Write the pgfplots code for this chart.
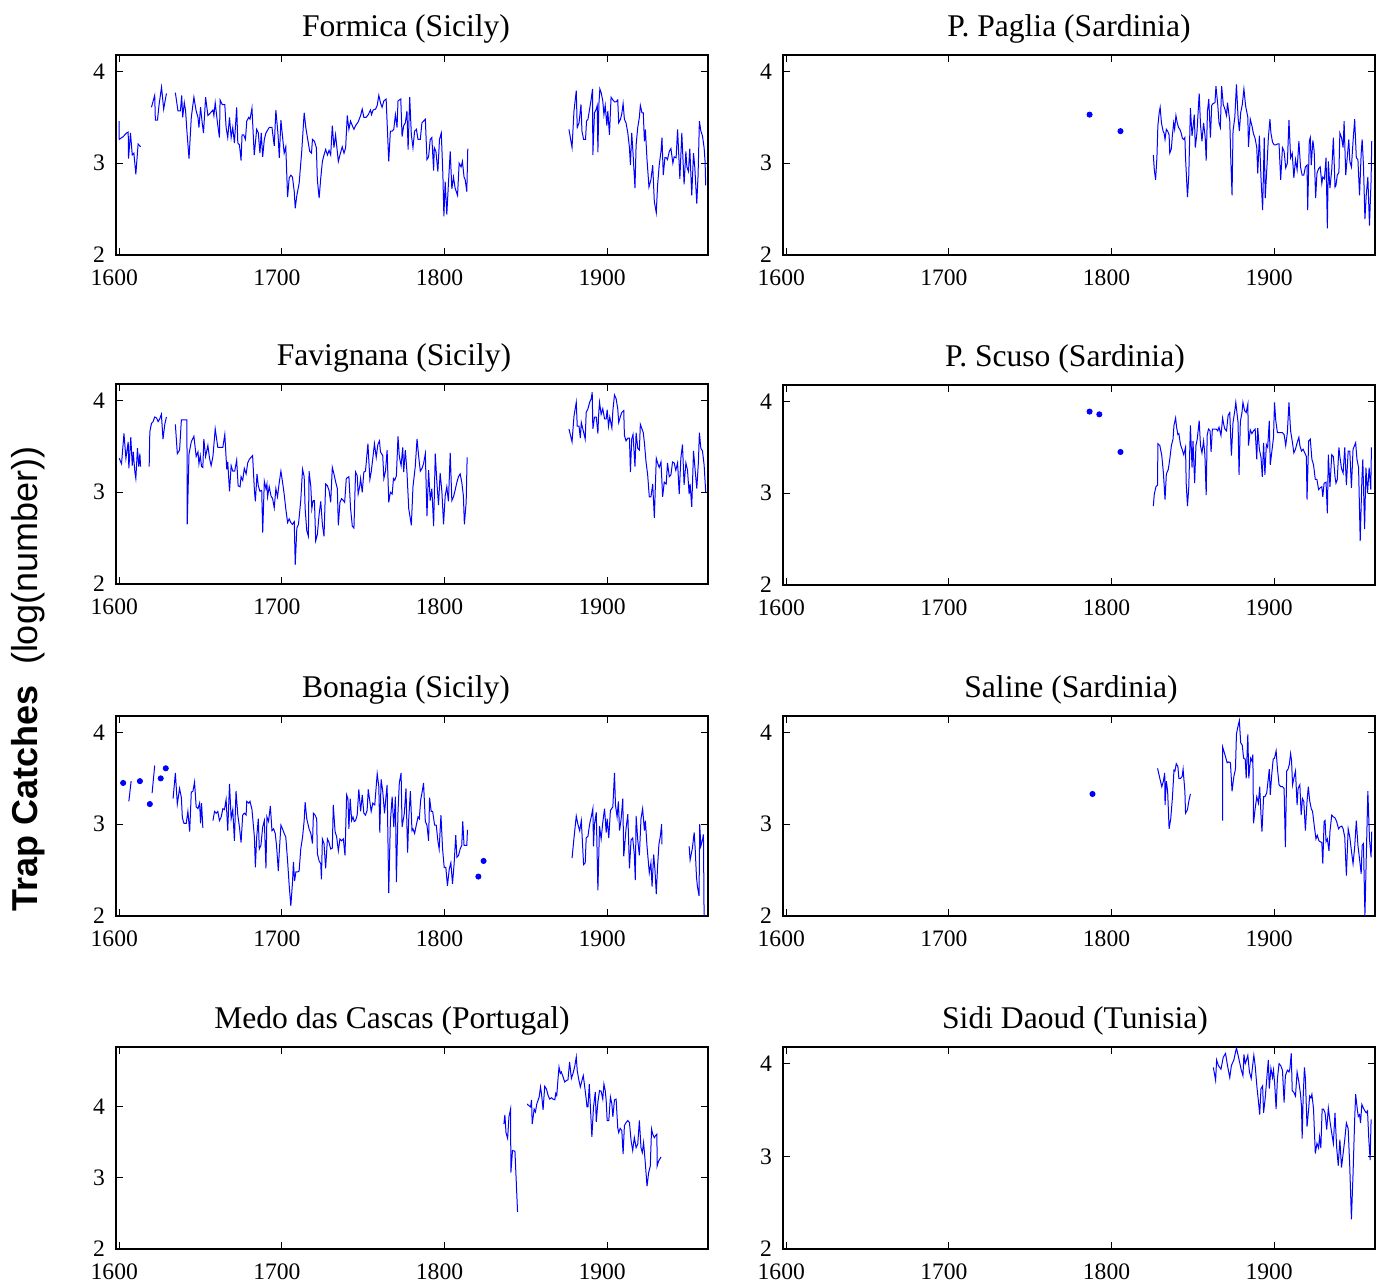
\documentclass[border=0pt]{standalone}
\usepackage{fontspec}
\setmainfont{Liberation Serif}
\newfontfamily\labfont{Liberation Sans}
\usepackage{pgfplots}
\pgfplotsset{compat=1.18}
\pgfplotsset{
 panel/.style={scale only axis, width=296pt, height=100pt, anchor=north west,
  xmin=1598, xmax=1962, ymin=2, ymax=4.18,
  xtick={1600,1700,1800,1900}, ytick={2,3,4},
  tick align=inside, major tick length=3.5pt,
  tick style={black, line width=0.5pt},
  axis line style={black, line width=0.9pt},
  ticklabel style={font=\fontsize{11.8}{13}\selectfont},
  x tick label style={yshift=-4pt, xshift=-2.5pt},
  y tick label style={xshift=-2pt},
  title style={font=\fontsize{15.8}{18}\selectfont, yshift=-3.5pt},
  /pgf/number format/1000 sep={},
  /pgf/number format/assume math mode=true},
 ser/.style={color=blue, line width=0.5pt, mark=none},
 dot/.style={color=blue, only marks, mark=*, mark size=1.3pt, mark options={fill=blue, draw=blue}},
}
\begin{document}
\begin{tikzpicture}
\useasboundingbox (0,0) rectangle (694pt,-644pt);
\node[rotate=90] at (14pt,-339.5pt) {\labfont\fontsize{18}{20}\selectfont\textbf{Trap Catches}\hspace{10pt}(log(number))};

% ---------------- Formica
\begin{axis}[panel, at={(58pt,-27.5pt)}, title={Formica (Sicily)}, title style={xshift=-3pt}]
\addplot[ser] coordinates {(1599.9,3.46)(1600,3.26)(1602.4,3.29)(1604.5,3.33)(1605.5,3.34)(1605.7,3.05)(1606.9,3.33)(1608,3.09)(1609,3.11)(1610.2,2.88)(1611.6,3.21)(1613.1,3.18)};
\addplot[ser] coordinates {(1619.8,3.61)(1621.8,3.74)(1622.2,3.47)(1623.5,3.47)(1624.5,3.64)(1626,3.83)(1627.3,3.59)(1629,3.76)};
\addplot[ser] coordinates {(1634.5,3.77)(1636.1,3.57)(1637.6,3.57)(1638.4,3.74)(1639,3.50)(1640,3.66)(1640.8,3.57)(1641.6,3.35)(1642.9,3.05)(1644.3,3.50)(1645.9,3.72)(1647.3,3.57)(1648.4,3.50)(1649,3.39)(1650,3.61)(1651,3.44)(1651.8,3.33)(1653.1,3.72)(1654.5,3.52)(1656.1,3.55)(1657.6,3.58)(1658.2,3.52)(1659,3.66)(1660.4,3.44)(1661.6,3.28)(1662,3.69)(1663.3,3.64)(1664.9,3.64)(1665.7,3.39)(1666.7,3.28)(1667.8,3.50)(1668.8,3.28)(1669.8,3.39)(1670.8,3.22)(1672.2,3.61)(1672.9,3.22)(1673.9,3.20)(1674.9,3.03)(1675.5,3.31)(1676.5,3.31)(1677.6,3.26)(1678.4,3.46)(1679.6,3.50)(1680.4,3.48)(1681.6,3.60)(1683,3.09)(1684.5,3.37)(1685.5,3.33)(1686.5,3.11)(1687.3,3.33)(1688.2,3.07)(1689.2,3.26)(1690.2,3.33)(1691.2,3.36)(1692.2,3.39)(1693.9,3.39)(1695.3,3.19)(1696.3,3.58)(1697.6,3.32)(1698.4,3.06)(1699.4,3.47)(1700.4,3.29)(1701.4,3.11)(1702.4,3.18)(1703.5,2.63)(1704.5,2.84)(1705.5,2.87)(1706.5,2.85)(1707.6,2.69)(1708.2,2.51)(1709.2,2.65)(1710.6,2.78)(1712.2,3.13)(1713.7,3.55)(1714.7,3.39)(1715.7,3.28)(1717.1,3.13)(1718.2,3.11)(1718.8,3.26)(1720,3.24)(1721.2,3.17)(1721.8,2.82)(1722.9,2.62)(1723.9,2.84)(1724.9,3.02)(1725.9,3.09)(1726.9,3.15)(1728,3.09)(1729,3.14)(1730,3.09)(1731,3.41)(1732,3.17)(1733,3.31)(1734.7,3.02)(1735.7,3.09)(1737.1,3.18)(1738.2,3.11)(1739.2,3.17)(1740.2,3.52)(1741.2,3.37)(1742.2,3.46)(1743.3,3.41)(1744.3,3.37)(1745.3,3.41)(1746.9,3.45)(1748.4,3.52)(1749.4,3.59)(1750.4,3.50)(1751.8,3.50)(1753.1,3.53)(1754.5,3.58)(1755.1,3.53)(1756.1,3.58)(1757.6,3.59)(1758.6,3.63)(1759.6,3.74)(1760.6,3.66)(1761.6,3.61)(1762.7,3.68)(1764.1,3.70)(1765.7,3.02)(1766.7,3.35)(1767.8,3.35)(1768.8,3.37)(1769.8,3.53)(1770.8,3.39)(1771.4,3.68)(1773.1,3.70)(1773.9,3.29)(1774.9,3.41)(1775.9,3.44)(1776.9,3.57)(1777.6,3.15)(1778.6,3.72)(1779.6,3.31)(1780.6,3.17)(1781.6,3.35)(1782.7,3.37)(1783.7,3.26)(1785.1,3.26)(1786.1,3.44)(1787.1,3.46)(1788.2,3.48)(1789.2,3.04)(1790.2,3.07)(1791.2,3.26)(1792.2,3.28)(1793.3,2.92)(1793.7,3.17)(1794.7,3.13)(1795.9,2.91)(1796.9,3.26)(1798,3.33)(1799,2.87)(1799.6,2.42)(1800.4,2.80)(1801.4,2.44)(1802.4,2.78)(1803.5,3.13)(1804.5,2.72)(1805.5,2.85)(1806.5,2.73)(1808,2.65)(1809,3.00)(1810.2,2.96)(1811,3.02)(1812,2.85)(1812.7,2.82)(1813.7,2.69)(1814.3,3.16)};
\addplot[ser] coordinates {(1876.5,3.37)(1878.4,3.17)(1879.6,3.57)(1881,3.79)(1881.6,3.39)(1882.7,3.44)(1883.9,3.64)(1884.5,3.35)(1885.5,3.26)(1886.7,3.26)(1887.3,3.46)(1888.2,3.48)(1889.2,3.59)(1890.2,3.70)(1891,3.81)(1891.2,3.09)(1892.2,3.55)(1893.3,3.59)(1893.9,3.63)(1894.3,3.12)(1894.9,3.64)(1895.5,3.81)(1896.3,3.77)(1897.3,3.68)(1898,3.53)(1898.8,3.63)(1899.8,3.41)(1900.4,3.57)(1901.4,3.31)(1902.4,3.72)(1903.5,3.69)(1904.5,3.67)(1905.5,3.67)(1906.5,3.69)(1907.1,3.44)(1908.2,3.48)(1909,3.54)(1909.8,3.65)(1910.6,3.48)(1911.6,3.44)(1912.7,3.33)(1913.7,3.17)(1914.3,2.98)(1915.1,3.33)(1915.9,3.11)(1917.1,2.73)(1917.8,3.20)(1918.8,3.39)(1919.8,3.50)(1920.4,3.63)(1921.4,3.55)(1922.2,3.55)(1922.9,3.24)(1923.5,3.37)(1924.5,3.04)(1925.7,2.74)(1926.9,2.82)(1928,2.98)(1929,2.58)(1930.2,2.46)(1931,2.76)(1932,2.98)(1933.1,3.13)(1933.7,3.28)(1934.5,2.87)(1935.5,3.06)(1936.3,3.06)(1937.1,3.04)(1938.2,3.13)(1939.2,3.16)(1940.4,3.00)(1941.2,3.07)(1942.4,3.06)(1943.3,3.37)(1944.7,2.83)(1945.9,3.33)(1947.3,2.77)(1948.4,3.13)(1949,2.96)(1950,2.91)(1950.8,3.16)(1951.4,2.91)(1952,2.65)(1953.1,3.11)(1953.9,2.95)(1955.1,2.56)(1955.9,2.87)(1956.7,3.46)(1957.6,3.35)(1958.6,3.30)(1959.6,3.17)(1960.2,3.02)(1960.6,2.76)};
\end{axis}

% ---------------- P. Paglia
\begin{axis}[panel, at={(391.5pt,-27.5pt)}, title={P. Paglia (Sardinia)}, title style={xshift=-5pt}]
\addplot[dot] coordinates {(1786.5,3.53)(1805.5,3.35)};
\addplot[ser] coordinates {(1825.7,3.09)(1826.3,2.93)(1827.1,2.82)(1827.9,3.06)(1828.5,3.41)(1829.3,3.55)(1829.9,3.61)(1830.7,3.44)(1831.7,3.35)(1832.3,3.33)(1832.9,3.26)(1833.7,3.37)(1834.5,3.35)(1835.4,3.31)(1835.8,3.11)(1836.8,3.16)(1837.4,3.30)(1838.2,3.44)(1838.8,3.37)(1839.6,3.52)(1840.4,3.44)(1841.2,3.39)(1842,3.37)(1842.8,3.33)(1843.6,3.27)(1844.4,3.26)(1845.1,3.28)(1845.5,3.06)(1846.7,2.63)(1847.5,2.87)(1848.5,3.60)(1849.5,3.30)(1850.1,3.39)(1850.9,3.53)(1851.5,3.17)(1852.5,3.33)(1853.9,3.76)(1854.7,3.42)(1855.6,3.24)(1856.6,3.44)(1857.6,3.28)(1858.2,3.03)(1859,3.57)(1859.8,3.70)(1860.8,3.28)(1861.6,3.63)(1862.4,3.65)(1863.6,3.66)(1864.2,3.84)(1865.3,3.64)(1866.1,3.44)(1866.9,3.39)(1867.7,3.84)(1868.7,3.64)(1869.7,3.59)(1870.7,3.52)(1871.3,3.66)(1872.7,3.46)(1873.3,3.06)(1874.1,2.65)(1874.7,3.35)(1875.8,3.50)(1876.8,3.86)(1877.8,3.50)(1878.6,3.35)(1879.4,3.55)(1880.4,3.64)(1881.4,3.81)(1882.4,3.63)(1883.8,3.50)(1884.2,3.18)(1885.3,3.48)(1886.3,3.41)(1887.3,3.32)(1888.3,3.27)(1889.3,3.17)(1889.9,2.89)(1890.9,3.30)(1891.9,2.84)(1892.9,2.49)(1893.9,3.28)(1894.5,2.62)(1895.6,2.98)(1896.4,3.27)(1897.4,3.48)(1898,3.33)(1899,3.23)(1900,3.20)(1901,3.20)(1902,3.21)(1903,3.21)(1904,2.82)(1905.1,3.17)(1906.1,3.13)(1907.1,2.95)(1908.1,3.00)(1909.1,3.47)(1910.1,3.06)(1911.1,3.11)(1912.1,2.84)(1913.1,3.04)(1914.1,2.93)(1915.2,3.24)(1916.2,2.96)(1917.2,2.87)(1918.2,2.87)(1919.2,2.96)(1920.2,2.98)(1920.6,2.49)(1921.6,3.24)(1922.2,3.28)(1922.8,2.98)(1923.8,3.25)(1924.6,3.13)(1925.5,2.62)(1926.3,2.89)(1927.3,2.94)(1928.3,2.96)(1929.3,2.78)(1929.9,2.85)(1930.9,2.83)(1931.9,3.06)(1932.7,2.29)(1933.3,3.02)(1934.3,2.73)(1935.4,2.93)(1936.4,3.28)(1937.4,2.74)(1938,2.76)(1938.8,2.87)(1939.8,2.90)(1940.4,3.33)(1941.4,3.28)(1942.4,3.17)(1943,3.46)(1944,2.87)(1944.8,3.04)(1945.9,3.26)(1946.5,3.02)(1947.5,2.96)(1948.5,3.24)(1949.5,3.48)(1950.5,3.06)(1951.5,3.04)(1952.5,2.65)(1953.5,3.11)(1954.1,3.26)(1954.9,2.98)(1955.8,2.39)(1956.6,2.65)(1957.6,2.85)(1958.6,2.32)(1959.6,2.82)(1960,3.24)};
\end{axis}

% ---------------- Favignana
\begin{axis}[panel, at={(58pt,-192pt)}, title={Favignana (Sicily)}, title style={xshift=-9pt}]
\addplot[ser] coordinates {(1600,3.37)(1601.4,3.31)(1602.9,3.64)(1604.1,3.37)(1605.5,3.55)(1605.9,3.26)(1607.1,3.60)(1608,3.29)(1608.6,3.44)(1609.6,3.22)(1610.2,3.15)(1611.2,3.48)(1612,3.28)(1612.7,3.42)(1613.1,3.28)};
\addplot[ser] coordinates {(1618.4,3.28)(1618.8,3.66)(1619.8,3.75)(1620.8,3.77)(1621.8,3.82)(1622.9,3.81)(1623.9,3.77)(1624.9,3.80)(1625.9,3.85)(1626.9,3.58)(1628,3.74)(1629,3.82)};
\addplot[ser] coordinates {(1634.5,3.74)(1635.7,3.42)(1637.1,3.46)(1638.2,3.79)(1640.2,3.79)(1641.6,3.79)(1641.8,2.65)(1642.9,3.42)(1644.3,3.55)(1645.9,3.61)(1647.3,3.39)(1648.4,3.44)(1649,3.31)(1649.8,3.40)(1650.6,3.28)(1651.4,3.27)(1652,3.58)(1653.1,3.39)(1654.5,3.51)(1655.5,3.37)(1656.5,3.29)(1657.6,3.39)(1659,3.69)(1660.6,3.49)(1662,3.49)(1663.7,3.49)(1664.9,3.63)(1666.1,3.25)(1666.7,3.33)(1667.8,3.01)(1668.8,3.29)(1669.8,3.23)(1671,3.23)(1672.2,3.35)(1673.1,3.07)(1674.3,3.06)(1674.9,3.17)(1675.9,3.13)(1676.9,3.26)(1678,3.20)(1679,3.32)(1680,3.36)(1682,3.40)(1683.1,3.02)(1683.7,2.90)(1684.7,3.20)(1685.5,3.07)(1686.5,3.01)(1687.6,3.02)(1688.2,2.56)(1689.2,3.12)(1690.2,3.04)(1690.8,3.09)(1691.2,2.95)(1692.2,3.06)(1693.3,2.96)(1694.3,2.93)(1695.3,2.83)(1696.3,3.04)(1697.3,2.95)(1698.4,3.11)(1699.4,3.23)(1700.4,3.11)(1701.4,2.98)(1702.4,2.82)(1703.5,2.67)(1704.5,2.71)(1705.5,2.67)(1706.5,2.65)(1707.6,2.68)(1708.2,2.21)(1709.2,2.61)(1710.2,2.65)(1711.6,2.91)(1712.7,3.25)(1713.7,3.17)(1714.3,2.82)(1715.3,2.58)(1716.3,2.52)(1716.7,3.23)(1717.8,3.06)(1718.4,2.82)(1719.2,2.91)(1720,2.91)(1720.8,2.47)(1721.8,2.54)(1722.9,2.76)(1723.9,2.90)(1724.9,2.65)(1725.9,2.52)(1726.9,3.09)(1728,3.07)(1729,3.02)(1730,2.89)(1731,3.27)(1732,3.20)(1733.1,3.11)(1734.1,3.04)(1734.7,2.64)(1735.7,2.89)(1736.7,2.93)(1737.8,2.91)(1738.6,2.89)(1739.6,3.15)(1741.2,3.17)(1742.2,2.83)(1743.3,2.63)(1744.3,2.61)(1745.3,3.22)(1746.3,3.18)(1746.9,2.98)(1747.8,3.06)(1748.4,3.15)(1749.4,3.00)(1750.4,3.22)(1751.4,3.23)(1752.9,3.53)(1753.5,3.33)(1754.1,3.14)(1754.9,3.22)(1756.1,3.40)(1756.9,3.53)(1758,3.38)(1759,3.52)(1760,3.56)(1760.6,3.44)(1762,3.40)(1762.7,3.15)(1763.7,3.23)(1764.7,3.46)(1765.7,2.89)(1766.7,3.00)(1767.8,2.98)(1768.6,3.15)(1769.4,3.13)(1770.4,3.18)(1771.4,3.61)(1772.2,3.39)(1773.3,3.29)(1774.3,3.49)(1774.9,3.22)(1775.9,3.46)(1776.9,3.22)(1778,2.82)(1779.6,2.64)(1780.6,3.06)(1782,3.28)(1783.1,3.58)(1784.1,3.39)(1785.1,3.23)(1786.1,3.26)(1787.1,3.31)(1788.2,3.42)(1789.2,2.74)(1790.2,3.24)(1791.2,2.91)(1792.2,3.04)(1793.3,2.63)(1794.3,3.42)(1795.3,3.11)(1796.3,2.86)(1797.3,3.21)(1798.4,3.00)(1799.4,2.65)(1800.4,2.96)(1801.4,3.06)(1802.4,2.90)(1803.5,3.43)(1804.5,2.91)(1805.5,2.95)(1806.5,3.02)(1807.6,3.11)(1808.6,3.17)(1809.6,3.20)(1810.6,3.11)(1811.6,2.96)(1812.2,2.65)(1813.3,2.89)(1813.9,3.38)};
\addplot[ser] coordinates {(1876.5,3.69)(1878.4,3.55)(1879.6,3.83)(1881,3.98)(1881.6,3.72)(1882.7,3.72)(1883.5,3.59)(1884.1,3.76)(1885.3,3.67)(1886.5,3.58)(1887.1,3.87)(1888.2,3.91)(1889.2,3.98)(1890.2,4.02)(1890.8,4.09)(1891.2,3.69)(1892.2,3.82)(1893.3,3.82)(1894.3,3.64)(1894.7,3.83)(1895.3,3.98)(1896.3,3.85)(1897.3,3.91)(1898.4,3.80)(1899.4,3.80)(1900,3.90)(1900.8,3.72)(1901.6,3.82)(1902.9,3.70)(1903.5,3.89)(1904.5,4.06)(1905.5,4.02)(1906.5,3.91)(1907.1,3.76)(1908.2,3.83)(1909,3.87)(1910.2,3.89)(1910.6,3.62)(1911.6,3.56)(1912.7,3.59)(1913.7,3.59)(1914.3,3.22)(1915.1,3.58)(1915.9,3.63)(1917.1,3.28)(1917.8,3.65)(1918.8,3.48)(1919.8,3.46)(1920.4,3.74)(1921.4,3.69)(1922.2,3.65)(1922.9,3.54)(1923.9,3.33)(1924.9,3.19)(1925.9,2.95)(1926.9,2.95)(1928,3.09)(1929,2.72)(1930.2,3.37)(1931,3.32)(1932,3.27)(1933.1,3.33)(1934.1,2.95)(1935.1,3.11)(1936.3,3.09)(1937.1,3.32)(1938.2,3.17)(1939.2,3.19)(1940.2,3.33)(1941.2,3.32)(1942.2,3.24)(1943.3,3.32)(1944.3,2.98)(1945.3,3.37)(1946.3,3.52)(1947.3,3.08)(1948.4,3.32)(1949.4,3.24)(1950.4,2.98)(1951,3.09)(1952,2.84)(1953.1,3.45)(1954.1,3.24)(1955.1,3.04)(1956.1,3.33)(1956.7,3.65)(1957.6,3.48)(1958.6,3.45)(1959.6,3.30)(1960.6,3.00)};
\end{axis}

% ---------------- P. Scuso
\begin{axis}[panel, at={(391.5pt,-192.5pt)}, title={P. Scuso (Sardinia)}, title style={xshift=-7pt}]
\addplot[dot] coordinates {(1786.5,3.89)(1792.5,3.86)(1805.5,3.45)};
\addplot[ser] coordinates {(1825.7,2.86)(1826.3,2.99)(1827.3,3.07)(1828.3,3.09)(1828.5,3.54)(1829.7,3.52)(1830.9,3.41)(1831.9,3.22)(1832.9,2.93)(1833.7,3.21)(1834.9,3.26)(1835.8,3.37)(1836.8,3.52)(1837.8,3.59)(1838.4,3.74)(1839.4,3.82)(1840,3.72)(1840.8,3.64)(1841.4,3.65)(1842.4,3.53)(1843.4,3.48)(1844.4,3.42)(1845.5,3.50)(1845.9,3.11)(1846.7,2.86)(1847.5,3.07)(1848.5,3.74)(1849.5,3.28)(1850.1,3.57)(1851.1,3.11)(1851.9,3.52)(1852.7,3.59)(1853.9,3.79)(1854.7,3.52)(1855.6,3.44)(1856.6,3.57)(1857.4,3.42)(1858.2,2.98)(1858.8,3.63)(1859.6,3.70)(1860.6,3.68)(1861.2,3.45)(1862,3.70)(1863.2,3.70)(1864.4,3.70)(1865.3,3.68)(1866.1,3.72)(1867.3,3.63)(1868.3,3.82)(1869.1,3.74)(1869.7,3.70)(1870.7,3.68)(1871.7,3.85)(1872.7,3.88)(1873.7,3.41)(1874.7,3.77)(1875.8,3.90)(1876.4,3.99)(1877.8,3.77)(1878.4,3.20)(1879.2,3.78)(1880.2,3.88)(1880.8,3.99)(1881.8,3.90)(1882.8,3.88)(1883.8,3.97)(1884.2,3.52)(1885.3,3.69)(1886.3,3.65)(1887.3,3.68)(1888.3,3.70)(1889.3,3.37)(1889.9,3.71)(1890.9,3.48)(1891.9,3.39)(1892.7,3.18)(1893.5,3.55)(1894.3,3.20)(1895.2,3.53)(1896,3.50)(1897,3.79)(1897.6,3.31)(1898.6,3.46)(1899.6,3.61)(1900.2,3.99)(1901,3.79)(1902,3.66)(1903,3.66)(1904,3.66)(1905.1,3.66)(1906.1,3.64)(1907.1,3.52)(1908.1,3.66)(1909.1,3.99)(1910.1,3.68)(1911.1,3.57)(1912.1,3.44)(1913.1,3.48)(1914.1,3.55)(1915.2,3.61)(1915.8,3.52)(1916.8,3.46)(1917.8,3.48)(1918.8,3.44)(1919.8,3.40)(1920.2,2.93)(1921.2,3.57)(1922.2,3.59)(1923.2,3.37)(1924.2,3.31)(1925.3,3.15)(1926.3,3.15)(1927.3,3.04)(1928.3,3.06)(1929.3,3.07)(1929.9,2.96)(1930.7,3.11)(1931.9,3.12)(1932.7,2.78)(1933.3,3.42)(1934.3,3.07)(1935.4,3.42)(1936.4,3.40)(1937.4,3.18)(1938,3.11)(1938.8,3.15)(1939.8,3.50)(1940.4,3.40)(1941.4,3.27)(1942.4,3.22)(1943.4,3.50)(1944.4,3.09)(1945.5,3.46)(1946.5,3.46)(1947.5,3.06)(1948.5,3.48)(1950.1,3.55)(1950.9,3.37)(1951.9,3.28)(1952.9,2.48)(1953.9,3.13)(1954.5,3.37)(1955.6,2.61)(1956.4,3.28)(1957.4,3.00)(1958.4,3.28)(1959.4,3.04)(1959.8,3.50)};
\end{axis}

% ---------------- Bonagia
\begin{axis}[panel, at={(58pt,-358pt)}, title={Bonagia (Sicily)}, title style={xshift=-3pt}]
\addplot[dot] coordinates {(1602.4,3.45)(1612.7,3.47)(1618.8,3.22)(1625.5,3.50)(1628.6,3.61)(1820.8,2.43)(1824,2.60)};
\addplot[ser] coordinates {(1605.9,3.25)(1607.3,3.47)};
\addplot[ser] coordinates {(1620.2,3.34)(1621.8,3.64)};
\addplot[ser] coordinates {(1633.1,3.28)(1634.5,3.56)(1635.7,3.22)(1637.1,3.39)(1638.2,3.29)(1638.8,3.07)(1639.8,3.01)(1641.2,3.01)(1642.2,3.14)(1643.3,2.92)(1644.3,3.35)(1645.3,3.36)(1646.3,3.46)(1647.3,3.19)(1648.4,3.17)(1649.4,3.23)(1650,3.01)(1650.6,3.23)(1651.4,2.96)};
\addplot[ser] coordinates {(1657.6,3.04)(1658.6,3.14)(1659.6,3.12)(1660.6,3.14)(1661.6,3.04)(1662.7,3.08)(1663.7,3.17)(1664.7,3.16)(1665.7,3.27)(1666.7,2.93)(1667.8,3.44)(1668.8,3.06)(1669.8,3.16)(1670.8,2.82)(1671.8,3.36)(1672.9,3.10)(1673.9,2.97)(1674.9,2.80)(1675.9,3.10)(1676.9,3.12)(1678,3.10)(1678.4,3.25)(1679.6,3.23)(1680.4,3.25)(1681.6,3.16)(1683.1,2.86)(1683.7,2.53)(1684.5,2.86)(1685.5,3.06)(1686.1,2.73)(1687.1,2.77)(1688.2,2.97)(1689.2,3.04)(1690.2,2.52)(1690.8,3.08)(1691.8,3.03)(1692.9,3.20)(1693.9,2.93)(1694.9,2.95)(1695.9,2.90)(1696.7,2.77)(1697.8,2.49)(1698.4,2.70)(1699.4,2.99)(1700.4,2.95)(1701.4,2.90)(1702.4,2.86)(1703.5,2.60)(1704.5,2.33)(1705.5,2.11)(1706.5,2.36)(1707.1,2.59)(1707.8,2.38)(1708.6,2.48)(1709.6,2.48)(1710.6,2.49)(1711.6,2.73)(1712.7,2.86)(1713.7,3.04)(1714.3,3.24)(1715.3,3.06)(1716.7,2.95)(1717.8,2.90)(1718.8,2.79)(1719.4,3.12)(1720.4,3.10)(1721.4,3.06)(1721.8,2.68)(1722.9,2.60)(1723.9,2.57)(1724.3,2.40)(1724.9,2.84)(1725.9,2.79)(1726.9,2.52)(1728,2.84)(1729,2.80)(1730,2.73)(1731,2.74)(1731.6,3.21)(1732.7,2.92)(1733.7,2.86)(1734.7,2.71)(1735.7,2.84)(1736.7,2.82)(1737.8,2.84)(1738.8,2.66)(1739.8,3.32)(1740.6,3.28)(1741.2,2.95)(1742,3.28)(1742.9,3.04)(1743.7,3.08)(1744.5,3.03)(1745.3,3.04)(1746.3,3.10)(1747.3,3.38)(1748.4,3.14)(1749.4,3.32)(1750.4,3.12)(1751.4,3.10)(1752.4,3.15)(1753.1,3.38)(1753.9,3.27)(1754.9,3.14)(1755.9,3.23)(1757.1,3.21)(1758.6,3.55)(1759.6,3.41)(1760.2,2.91)(1761,3.49)(1762,3.36)(1763.1,3.12)(1764.1,3.32)(1764.7,3.43)(1765.7,2.25)(1766.7,3.03)(1767.8,3.30)(1768.8,2.97)(1769.8,3.30)(1770.4,2.37)(1771.4,3.14)(1772.2,3.45)(1773.3,3.56)(1773.9,2.97)(1775.3,3.12)(1776.3,3.39)(1777.3,2.69)(1778,3.06)(1779,3.36)(1780,2.93)(1780.6,2.95)(1781.6,2.90)(1782.4,2.97)(1783.7,3.08)(1784.5,3.06)(1785.3,3.26)(1786.5,3.38)(1787.1,3.45)(1788.2,3.03)(1789.2,2.99)(1790.2,2.82)(1790.8,3.29)(1791.8,3.14)(1792.7,3.14)(1793.9,2.99)(1794.9,2.99)(1795.9,2.82)(1796.7,2.73)(1797.8,3.10)(1798.8,2.73)(1799.8,2.53)(1800.8,2.53)(1801.8,2.33)(1802.9,2.51)(1803.9,2.58)(1804.9,2.35)(1805.9,2.57)(1806.9,2.88)(1807.6,2.64)(1808.6,2.66)(1809.6,2.73)(1810.6,2.77)(1811.2,3.03)(1812,2.77)(1813.1,2.77)(1813.7,2.77)(1814.1,2.94)};
\addplot[ser] coordinates {(1878.4,2.63)(1879.6,2.85)(1881,3.09)(1882,3.00)(1883.1,2.93)(1884.1,3.04)(1885.5,2.56)(1886.5,2.58)(1887.1,2.85)(1888.2,2.87)(1889.2,3.00)(1890.2,3.08)(1891.2,3.17)(1891.6,2.76)(1892.2,3.00)(1893.3,3.13)(1894.3,2.28)(1895.3,2.98)(1896.3,2.84)(1897.3,3.02)(1898.4,3.17)(1899.4,2.91)(1900,3.06)(1901,2.85)(1902,3.15)(1903.5,3.19)(1904.5,3.56)(1905.1,3.21)(1906.1,3.08)(1906.9,3.25)(1907.6,2.93)(1908.6,3.06)(1909.6,3.28)(1910.2,2.65)(1911,2.82)(1911.6,2.95)(1912.7,3.11)(1913.7,2.52)(1914.7,2.83)(1915.7,2.85)(1916.7,2.67)(1917.3,2.39)(1917.8,3.09)(1918.8,2.83)(1919.8,2.66)(1920.8,3.06)(1921.8,3.17)(1922.9,2.93)(1923.5,3.04)(1924.5,2.76)(1925.9,2.47)(1926.9,2.58)(1927.6,2.32)(1928.6,2.67)(1929.4,2.50)(1930.2,2.24)(1931,2.54)(1931.8,2.78)(1932.7,2.87)(1933.5,3.00)(1933.7,2.78)};
\addplot[ser] coordinates {(1950.4,2.76)(1951,2.61)(1952.4,2.74)(1953.5,2.91)(1954.1,2.74)(1954.9,2.43)(1955.5,2.32)(1956.5,2.22)(1956.9,3.00)(1957.6,2.76)(1958.6,2.83)(1959.2,2.89)(1959.6,1.98)};
\end{axis}

% ---------------- Saline
\begin{axis}[panel, at={(391.5pt,-358pt)}, title={Saline (Sardinia)}, title style={xshift=-4pt}]
\addplot[dot] coordinates {(1788.3,3.33)};
\addplot[ser] coordinates {(1828.3,3.61)(1829.7,3.50)(1830.9,3.41)(1831.9,3.47)(1832.7,3.56)(1832.9,3.21)(1833.7,3.47)(1834.5,3.36)(1835.4,2.95)(1836.4,3.06)(1837.4,3.28)(1838.4,3.59)(1839,3.58)(1839.8,3.66)(1840.8,3.63)(1841.4,3.50)(1842.4,3.50)(1843.4,3.52)(1844,3.60)(1845.1,3.36)(1845.5,3.12)(1846.7,3.16)(1847.5,3.25)(1848.5,3.33)};
\addplot[ser] coordinates {(1868.3,3.04)(1868.35,3.84)(1869.7,3.76)(1871.1,3.67)(1872.1,3.68)(1873.1,3.67)(1874.1,3.36)(1875.2,3.52)(1876.2,3.60)(1876.8,3.98)(1877.4,4.04)(1878.6,4.13)(1879.4,3.89)(1880.4,3.86)(1881.2,3.72)(1882.2,3.71)(1882.8,3.50)(1883.8,3.98)(1884.4,3.50)(1885.5,3.72)(1886.3,3.69)(1886.9,3.76)(1887.3,3.01)(1888.3,3.17)(1889.3,3.30)(1890.3,3.23)(1891.1,3.41)(1891.9,3.10)(1892.5,2.92)(1893.5,3.30)(1894.3,3.30)(1895.4,3.34)(1896.4,3.50)(1897,3.60)(1897.6,3.32)(1898.4,3.52)(1899.4,3.71)(1900.2,3.72)(1901.2,3.80)(1902,3.61)(1903,3.43)(1904,3.41)(1905.1,3.41)(1906.1,3.39)(1906.9,2.75)(1907.7,3.58)(1908.5,3.60)(1909.3,3.65)(1910.1,3.77)(1910.7,3.69)(1911.3,3.43)(1912.1,3.50)(1913.1,3.58)(1914.1,3.21)(1914.7,3.39)(1915.8,3.43)(1916.6,3.10)(1917.4,3.28)(1918.2,3.25)(1919.2,2.93)(1920.2,3.25)(1921,3.41)(1921.8,3.26)(1922.8,3.17)(1923.6,3.14)(1924.6,2.99)(1925.7,2.84)(1926.5,2.88)(1927.5,2.82)(1928.3,2.81)(1929.3,2.80)(1929.9,2.57)(1930.7,3.03)(1931.3,3.04)(1931.9,2.81)(1932.7,2.84)(1933.7,2.71)(1934.3,2.92)(1935.4,3.10)(1936.4,3.08)(1937.4,3.07)(1938.4,3.03)(1939.6,2.95)(1940.4,2.97)(1941.6,2.98)(1942.4,2.95)(1943.4,2.86)(1944.4,2.44)(1945.5,2.95)(1946.5,2.86)(1947.5,2.71)(1948.5,2.57)(1949.5,2.75)(1950.5,3.04)(1951.5,2.77)(1952.5,2.62)(1953.5,2.46)(1954.1,2.77)(1954.9,2.79)(1955.8,2.00)(1956.6,2.62)(1957.6,3.36)(1958.6,2.84)(1959.6,2.64)(1960,2.92)};
\end{axis}

% ---------------- Medo das Cascas
\begin{axis}[panel, at={(58pt,-523.5pt)}, ymax=4.83, height=101pt, title={Medo das Cascas (Portugal)}, title style={xshift=-10pt}]
\addplot[ser] coordinates {(1836.5,3.75)(1837.1,3.88)(1837.8,3.63)(1838.8,3.55)(1839.6,3.85)(1840.6,3.96)(1840.8,3.07)(1841.8,3.38)(1843.3,3.37)(1844.9,2.52)};
\addplot[ser] coordinates {(1850.8,4.03)(1851.8,4.01)(1852.9,3.99)(1853.5,4.09)(1853.9,3.75)(1854.5,3.85)(1855.1,3.96)(1855.9,3.92)(1856.7,4.03)(1857.6,4.09)(1858.2,4.13)(1859,4.27)(1859.6,4.18)(1860.6,3.95)(1861.6,4.28)(1862.7,4.24)(1863.7,4.15)(1864.7,4.10)(1865.7,4.12)(1866.7,4.10)(1867.8,4.09)(1868.4,4.18)(1869,4.15)(1869.8,4.39)(1870.4,4.55)(1871.2,4.46)(1871.8,4.48)(1872.9,4.41)(1873.9,4.34)(1874.9,4.36)(1875.9,4.37)(1876.9,4.62)(1878,4.39)(1879,4.46)(1880,4.55)(1881,4.69)(1881.6,4.50)(1882.4,4.39)(1883.5,4.27)(1884.5,4.36)(1885.3,4.43)(1886.1,4.29)(1887.1,4.10)(1887.6,3.99)(1888.2,3.99)(1889,4.31)(1889.8,3.94)(1890.6,3.57)(1891.6,3.99)(1892.7,4.20)(1893.3,3.78)(1894.3,4.06)(1895.3,4.22)(1896.3,4.21)(1897.3,4.10)(1898,4.31)(1898.8,4.22)(1899.4,4.08)(1900,3.80)(1901,3.80)(1902,4.13)(1902.9,4.03)(1903.5,3.85)(1904.5,4.09)(1905.5,4.10)(1906.5,3.70)(1907.1,3.63)(1908,3.69)(1909,3.66)(1909.8,3.33)(1910.6,3.73)(1911.6,3.77)(1912.7,3.80)(1913.7,3.77)(1914.7,3.52)(1915.7,3.38)(1916.7,3.56)(1917.8,3.42)(1918.8,3.47)(1919.8,3.80)(1920.8,3.42)(1921.6,3.35)(1922.4,3.49)(1923.5,3.19)(1924.5,2.88)(1925.5,3.07)(1926.5,3.16)(1927.3,3.68)(1928,3.61)(1929,3.56)(1929.8,3.59)(1930.6,3.61)(1930.7,3.16)(1931.6,3.23)(1933.1,3.29)};
\end{axis}

% ---------------- Sidi Daoud
\begin{axis}[panel, at={(391.5pt,-523.5pt)}, height=101pt, title={Sidi Daoud (Tunisia)}, title style={xshift=-2pt}]
\addplot[ser] coordinates {(1862.6,3.96)(1864,3.82)(1864.6,4.04)(1865.7,3.98)(1867.3,3.94)(1868.7,4.07)(1870.1,4.11)(1871.3,3.98)(1872.7,3.85)(1873.7,3.98)(1875.2,4.04)(1876.8,4.17)(1878.2,4.06)(1879.8,3.93)(1880.8,3.87)(1881.4,4.10)(1882.2,4.00)(1883,4.04)(1883.8,4.09)(1884.8,3.91)(1885.9,3.84)(1886.9,4.00)(1887.5,4.09)(1888.3,3.98)(1889.5,3.73)(1890.3,3.60)(1891.1,3.45)(1891.9,3.73)(1892.9,3.76)(1893.5,3.47)(1894.5,3.63)(1895.6,3.87)(1896.4,4.04)(1897,3.73)(1898,3.95)(1899,3.85)(1899.6,3.93)(1900.4,3.76)(1901.2,3.51)(1902,3.84)(1903,4.00)(1904,3.98)(1905.1,3.93)(1906.1,3.58)(1906.9,3.87)(1908.1,3.93)(1909.1,3.91)(1909.7,3.95)(1910.5,4.11)(1911.1,3.71)(1912.1,3.69)(1913.1,3.65)(1914.1,3.91)(1915.2,3.80)(1916.2,3.67)(1916.8,3.54)(1917.2,3.19)(1917.8,3.62)(1918.6,3.96)(1919.2,3.84)(1920.2,3.32)(1921.2,3.51)(1921.8,3.65)(1922.6,3.63)(1923.2,3.67)(1924.2,3.51)(1925.3,3.03)(1926.3,3.14)(1927.3,3.09)(1927.9,3.21)(1928.7,3.09)(1929.5,3.51)(1930.3,3.51)(1931.3,3.47)(1932.3,3.29)(1933.3,3.52)(1934.3,3.38)(1935.4,3.25)(1936.4,3.14)(1937.4,3.47)(1938.4,3.10)(1939.4,2.90)(1940.4,3.18)(1941.4,2.88)(1942.4,3.03)(1943.4,3.18)(1944.4,3.36)(1945.5,3.30)(1946.5,2.88)(1947.5,2.32)(1948.5,2.81)(1949.5,3.40)(1950.1,3.67)(1950.9,3.54)(1951.7,3.43)(1952.5,3.45)(1953.1,3.36)(1953.9,3.56)(1954.9,3.52)(1955.8,3.49)(1956.6,3.47)(1957.4,3.49)(1958.2,3.18)(1959,2.96)(1959.6,3.40)};
\end{axis}
\end{tikzpicture}
\end{document}
